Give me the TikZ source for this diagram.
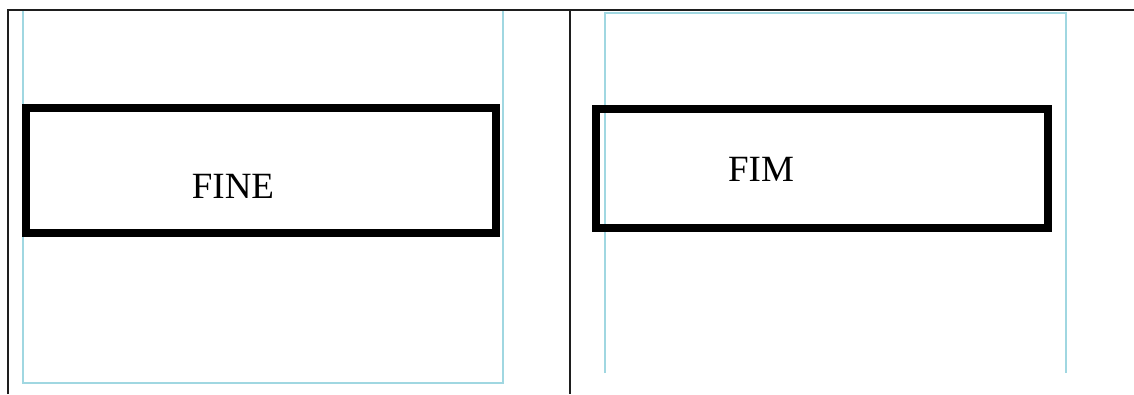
\documentclass[tikz,border=0pt]{standalone}
\usepackage{fontspec}
\setmainfont{Liberation Serif}
\definecolor{framecyan}{RGB}{160,215,225}
\definecolor{tableline}{RGB}{30,30,30}
\begin{document}
\begin{tikzpicture}[x=1pt,y=-1pt,
  tableln/.style={draw=tableline,line width=2pt},
  cellframe/.style={draw=framecyan,line width=2pt},
  thickbox/.style={draw=black,line width=8pt,line join=miter},
  label/.style={font=\fontsize{37}{40}\selectfont,inner sep=0pt}]
\useasboundingbox[fill=white] (0,0) rectangle (1134,394);
% table lines
\draw[tableln] (8,394) -- (8,10) -- (1134,10);
\draw[tableln] (570,10) -- (570,394);
% left cell frame
\draw[cellframe] (22.5,11) -- (22.5,383) -- (503,383) -- (503,11);
% right cell frame
\draw[cellframe] (605,373) -- (605,13) -- (1066,13) -- (1066,373);
% left box
\draw[thickbox] (26,108) rectangle (496,233);
\node[label] (fine) at (233,186) {FINE};
% right box
\draw[thickbox] (596,109) rectangle (1048,228);
\node[label] (fim) at (761,169) {FIM};
\end{tikzpicture}
\end{document}
